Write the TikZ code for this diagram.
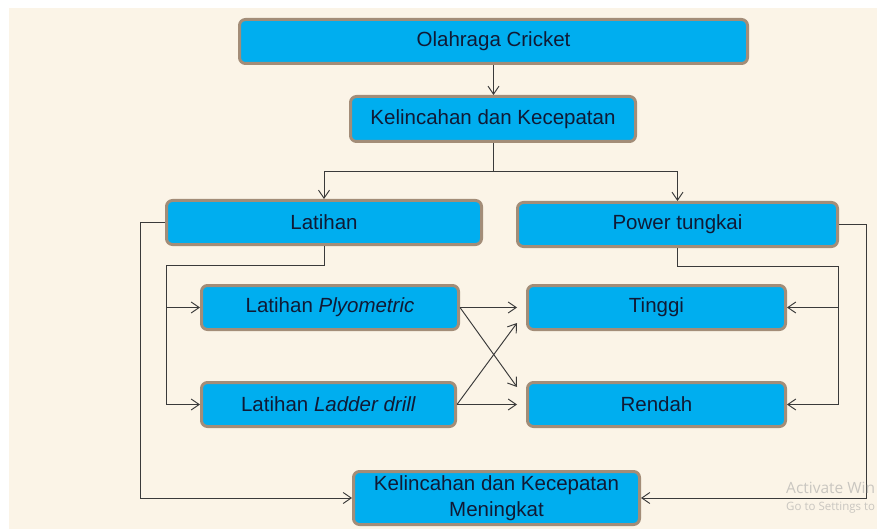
\documentclass[tikz,border=0pt]{standalone}
\usepackage{fontspec}
\setmainfont{Liberation Sans}
\newfontfamily\wmfont{Open Sans}
\usetikzlibrary{arrows.meta,calc}
\definecolor{bgcream}{HTML}{FBF4E7}
\definecolor{boxfill}{HTML}{00AEEF}
\definecolor{boxedge}{HTML}{A38D78}
\definecolor{boxtext}{HTML}{101A35}
\definecolor{linegray}{HTML}{3A3A3A}
\definecolor{wmgray}{HTML}{C9C6C0}
\tikzset{
  flowbox/.style={draw=boxedge, line width=3pt, fill=boxfill, rounded corners=6pt,
    text=boxtext, inner sep=0pt, align=center,
    font=\fontsize{20.5pt}{26pt}\selectfont},
  conn/.style={draw=linegray, line width=0.95pt},
  arr/.style={conn, -{Straight Barb[length=8pt,width=11pt]}},
}
\begin{document}
\begin{tikzpicture}[x=1pt,y=-1pt]
\useasboundingbox (0,0) rectangle (877,529);
\fill[white] (0,0) rectangle (877,529);
\fill[bgcream] (9,8) rectangle (877,529);

\node[flowbox, minimum width=508pt, minimum height=44pt] (oc) at (493.5,41.5) {Olahraga Cricket};
\node[flowbox, minimum width=285pt, minimum height=45pt] (kk) at (493,119) {Kelincahan dan Kecepatan};
\node[flowbox, minimum width=315pt, minimum height=44pt] (lat) at (324,222.5) {Latihan};
\node[flowbox, minimum width=320pt, minimum height=44pt] (pow) at (677.5,224.5) {Power tungkai};
\node[flowbox, minimum width=257pt, minimum height=44pt] (ply) at (330,307.5) {Latihan \textit{Plyometric}};
\node[flowbox, minimum width=254pt, minimum height=44pt] (lad) at (328.5,404.5) {Latihan \textit{Ladder drill}};
\node[flowbox, minimum width=258pt, minimum height=44pt] (tin) at (656.5,307.5) {Tinggi};
\node[flowbox, minimum width=258pt, minimum height=44pt] (ren) at (656.5,404.5) {Rendah};
\node[flowbox, minimum width=286pt, minimum height=53pt] (men) at (496.5,498) {Kelincahan dan Kecepatan\\Meningkat};

\coordinate (split) at (493,171);
\coordinate (lb) at (166,265);
\coordinate (pb) at (838,266);

\draw[arr] (oc.south) -- (oc.south |- kk.north);
\draw[conn] (kk.south) -- (split);
\draw[arr] (split) -| (lat.north);
\draw[arr] (split) -| (pow.north);

\draw[conn] (lat.south) |- (lb);
\draw[arr] (lb) |- (ply.west);
\draw[arr] (lb) |- (lad.west);

\draw[conn] (pow.south) |- (pb);
\draw[arr] (pb) |- (tin.east);
\draw[arr] (pb) |- (ren.east);

\draw[arr, shorten >=9pt] (ply.east) -- (tin.west);
\draw[arr, shorten >=9pt] (lad.east) -- (ren.west);
\draw[arr] (ply.east) -- ([shift={(-9pt,17.5pt)}]ren.west);
\draw[arr] (lad.east) -- ([shift={(-9pt,-15.5pt)}]tin.west);

\draw[arr] (lat.west) -- ++(-25,0) |- (men.west);
\draw[arr] (pow.east) -- ++(27,0) |- (men.east);

\node[anchor=base west, inner sep=0pt, text=wmgray, font=\wmfont\fontsize{15.5pt}{18pt}\selectfont] (wm1) at (786,493) {Activate Win};
\node[anchor=base west, inner sep=0pt, text=wmgray, font=\wmfont\fontsize{11.5pt}{14pt}\selectfont] (wm2) at (786,510) {Go to Settings to};
\end{tikzpicture}
\end{document}
